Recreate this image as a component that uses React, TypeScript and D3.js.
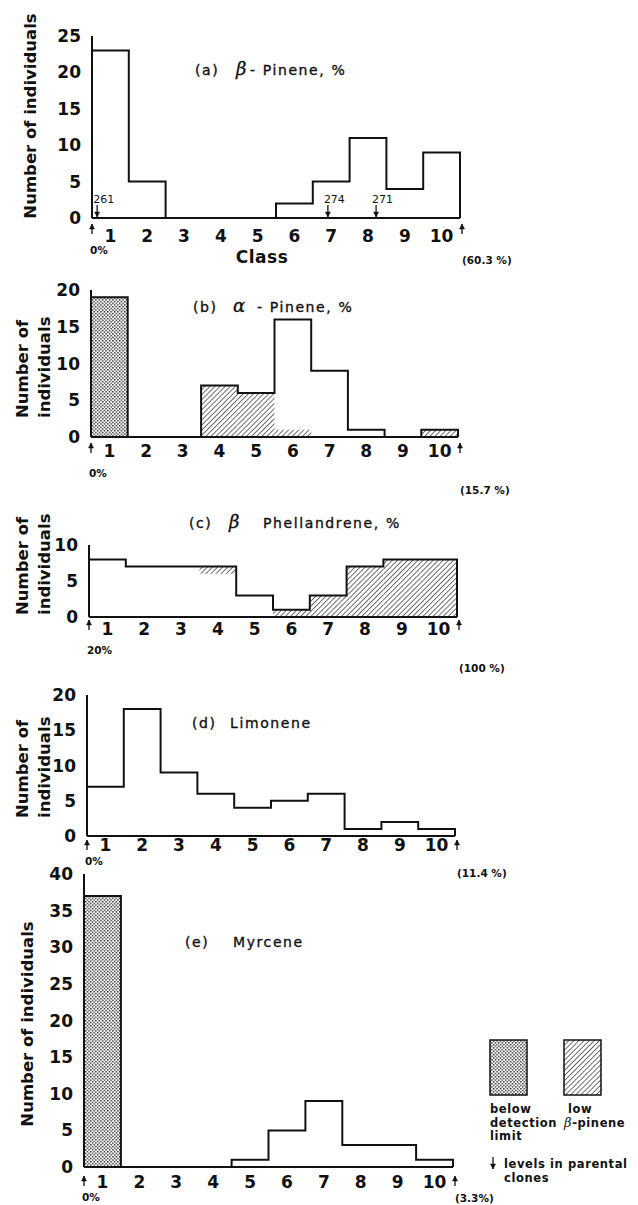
import React from 'react';
import * as d3 from 'd3';

// class labels along every x axis
const classLabels = ['1', '2', '3', '4', '5', '6', '7', '8', '9', '10'];

// counts per class
const betaPinene = [23, 5, 0, 0, 0, 2, 5, 11, 4, 9];
const alphaPinene = [19, 0, 0, 7, 6, 16, 9, 1, 0, 1];
const alphaPineneBelowLimit = [19, 0, 0, 0, 0, 0, 0, 0, 0, 0];
const alphaPineneLowBeta = [0, 0, 0, 7, 6, 1, 0, 0, 0, 1];
const phellandrene = [8, 7, 7, 7, 3, 1, 3, 7, 8, 8];
const phellandreneLowBeta = [0, 0, 0, 1, 0, 1, 3, 7, 8, 8];
const phellandreneLowBetaBase = [0, 0, 0, 6, 0, 0, 0, 0, 0, 0];
const limonene = [7, 18, 9, 6, 4, 5, 6, 1, 2, 1];
const myrcene = [37, 0, 0, 0, 1, 5, 9, 3, 3, 1];
const myrceneBelowLimit = [37, 0, 0, 0, 0, 0, 0, 0, 0, 0];
const zeros = [0, 0, 0, 0, 0, 0, 0, 0, 0, 0];

// parental clone levels in panel (a), as position on the class scale (0..10)
const parentalClones = ['261', '274', '271'];
const parentalClonePositions = [0.14, 6.41, 7.72];

// range ends
const rangeStart = ['0%', '0%', '20%', '0%', '0%'];
const rangeEnd = ['(60.3 %)', '(15.7 %)', '(100 %)', '(11.4 %)', '(3.3%)'];
const yMaxes = [25, 20, 10, 20, 40];

const font = '"DejaVu Sans", Verdana, sans-serif';

// geometry of each panel (pixels): tk = tick label offset, ar = arrow offset
const layout = [
  { x0: 92, x1: 460, y0: 218, yTop: 36, ly: 116, lines: 1, lx: 36, sy: 36, ey: 46, tk: 24, ar: 6 },
  { x0: 91, x1: 458, y0: 437, yTop: 290, ly: 418, lines: 2, lx: 28, sy: 40, ey: 57, tk: 20, ar: 6 },
  { x0: 89, x1: 457, y0: 617, yTop: 545, ly: 615, lines: 2, lx: 28, sy: 37, ey: 55, tk: 18, ar: 3 },
  { x0: 87, x1: 455, y0: 836, yTop: 695, ly: 818, lines: 2, lx: 28, sy: 29, ey: 41, tk: 15, ar: 4 },
  { x0: 84, x1: 453, y0: 1167, yTop: 874, ly: 1024, lines: 1, lx: 33, sy: 34, ey: 35, tk: 21, ar: 9 },
];

const panels = [
  { counts: betaPinene, below: zeros, low: zeros, lowBase: zeros },
  { counts: alphaPinene, below: alphaPineneBelowLimit, low: alphaPineneLowBeta, lowBase: zeros },
  { counts: phellandrene, below: zeros, low: phellandreneLowBeta, lowBase: phellandreneLowBetaBase },
  { counts: limonene, below: zeros, low: zeros, lowBase: zeros },
  { counts: myrcene, below: myrceneBelowLimit, low: zeros, lowBase: zeros },
];

const greek = { fontStyle: 'italic', fontFamily: '"DejaVu Serif", serif', fontSize: 18, fontWeight: 400 } as any;

function Title({ i }: { i: number }) {
  const st = { fontFamily: font, fontSize: 14, letterSpacing: 1.6, fill: '#111', stroke: '#111', strokeWidth: 0.35 } as any;
  if (i === 0) return (
    <text y={75} style={st}>
      <tspan x={195}>(a)</tspan><tspan x={236} style={greek}>β</tspan><tspan x={250}>- Pinene, %</tspan>
    </text>
  );
  if (i === 1) return (
    <text y={312} style={st}>
      <tspan x={193}>(b)</tspan><tspan x={233} style={greek}>α</tspan><tspan x={257}>- Pinene, %</tspan>
    </text>
  );
  if (i === 2) return (
    <text y={528} style={st}>
      <tspan x={189}>(c)</tspan><tspan x={229} style={greek}>β</tspan><tspan x={263}>Phellandrene, %</tspan>
    </text>
  );
  if (i === 3) return (
    <text y={728} style={st}><tspan x={192}>(d)</tspan><tspan x={230}>Limonene</tspan></text>
  );
  return (
    <text y={947} style={st}><tspan x={185}>(e)</tspan><tspan x={233}>Myrcene</tspan></text>
  );
}

function Arrow({ x, y1, y2, up }: { x: number; y1: number; y2: number; up: boolean }) {
  const tip = up ? y1 : y2;
  const d = up ? 1 : -1;
  return (
    <g stroke="#111" strokeWidth={1.3} fill="#111">
      <line x1={x} x2={x} y1={y1} y2={y2} />
      <path d={`M${x - 2.5},${tip + d * 5}L${x},${tip}L${x + 2.5},${tip + d * 5}Z`} strokeWidth={0.5} />
    </g>
  );
}

function Panel({ i }: { i: number }) {
  const g = layout[i];
  const p = panels[i];
  const x = d3.scaleLinear().domain([0, 10]).range([g.x0, g.x1]);
  const y = d3.scaleLinear().domain([0, yMaxes[i]]).range([g.y0, g.yTop]);
  const pts: [number, number][] = [[0, 0]];
  p.counts.forEach((v, k) => { pts.push([k, v]); pts.push([k + 1, v]); });
  pts.push([10, 0]);
  const outline = d3.line<[number, number]>().x(d => x(d[0])).y(d => y(d[1]))(pts) as string;
  const yTicks = d3.range(0, yMaxes[i] + 1, 5);
  const labelSt = { fontFamily: font, fontSize: 17, fontWeight: 700, fill: '#111' } as any;
  const axisLabelSt = { fontFamily: font, fontSize: 16.5, fontWeight: 700, fill: '#111' } as any;
  const smallSt = { fontFamily: font, fontSize: 10.5, fontWeight: 700, fill: '#111' } as any;
  return (
    <g>
      {p.below.map((v, k) => v > 0 && (
        <rect key={'b' + k} x={x(k)} width={x(k + 1) - x(k)} y={y(v)} height={y(0) - y(v)} fill="url(#stipple)" />
      ))}
      {p.low.map((v, k) => v > 0 && (
        <rect key={'l' + k} x={x(k)} width={x(k + 1) - x(k)} y={y(p.lowBase[k] + v)} height={y(p.lowBase[k]) - y(p.lowBase[k] + v)} fill="url(#hatch)" />
      ))}
      <path d={outline} fill="none" stroke="#111" strokeWidth={2} strokeLinejoin="miter" />
      <line x1={g.x0} x2={g.x1} y1={g.y0} y2={g.y0} stroke="#111" strokeWidth={2} />
      <line x1={g.x0} x2={g.x0} y1={g.yTop} y2={g.y0} stroke="#111" strokeWidth={2} />
      {yTicks.map(t => (
        <text key={t} x={g.x0 - 11} y={y(t) + 6} textAnchor="end" style={labelSt}>{t}</text>
      ))}
      {classLabels.map((c, k) => (
        <text key={c} x={x(k + 0.5)} y={g.y0 + g.tk} textAnchor="middle" style={labelSt}>{c}</text>
      ))}
      <Arrow x={g.x0} y1={g.y0 + g.ar} y2={g.y0 + g.ar + 10} up={true} />
      <Arrow x={g.x1 + 2} y1={g.y0 + g.ar} y2={g.y0 + g.ar + 10} up={true} />
      <text x={g.x0 - 2} y={g.y0 + g.sy} style={smallSt}>{rangeStart[i]}</text>
      <text x={g.x1 + 2} y={g.y0 + g.ey} style={smallSt}>{rangeEnd[i]}</text>
      {g.lines === 1 ? (
        <text transform={`translate(${g.lx},${g.ly}) rotate(-90)`} textAnchor="middle" style={axisLabelSt}>Number of individuals</text>
      ) : (
        <g>
          <text transform={`translate(${g.lx},${g.ly}) rotate(-90)`} style={axisLabelSt}>Number of</text>
          <text transform={`translate(${g.lx + 22},${g.ly}) rotate(-90)`} style={axisLabelSt}>individuals</text>
        </g>
      )}
      {i === 0 && (
        <text x={262} y={263} textAnchor="middle" style={{ ...labelSt, letterSpacing: 0.5 }}>Class</text>
      )}
      {i === 0 && parentalClones.map((c, k) => (
        <g key={c}>
          <text x={x(parentalClonePositions[k]) - 4} y={g.y0 - 15} style={{ fontFamily: font, fontSize: 11, fill: '#111' }}>{c}</text>
          <Arrow x={x(parentalClonePositions[k])} y1={g.y0 - 13} y2={g.y0 - 1} up={false} />
        </g>
      ))}
      <Title i={i} />
    </g>
  );
}

export default function App() {
  const small = { fontFamily: font, fontSize: 11.5, fontWeight: 700, fill: '#111', letterSpacing: 0.6 } as any;
  return (
    <svg width={638} height={1205} style={{ position: 'absolute', left: 0, top: 0, background: '#fff' }}>
      <defs>
        <pattern id="stipple" width={3.4} height={3.4} patternUnits="userSpaceOnUse">
          <rect width={3.4} height={3.4} fill="#fff" />
          <rect x={0} y={0} width={1.4} height={1.4} fill="#222" />
          <rect x={1.7} y={1.7} width={1.4} height={1.4} fill="#222" />
        </pattern>
        <pattern id="hatch" width={3.6} height={3.6} patternUnits="userSpaceOnUse" patternTransform="rotate(45)">
          <rect width={3.6} height={3.6} fill="#fff" />
          <line x1={0} y1={0} x2={0} y2={3.6} stroke="#111" strokeWidth={1.2} />
        </pattern>
      </defs>
      {layout.map((_, i) => <Panel key={i} i={i} />)}
      <g>
        <rect x={490} y={1040} width={37} height={55} fill="url(#stipple)" stroke="#111" strokeWidth={1.5} />
        <rect x={564} y={1040} width={37} height={55} fill="url(#hatch)" stroke="#111" strokeWidth={1.5} />
        <text x={490} y={1113} style={small}>below</text>
        <text x={490} y={1127} style={small}>detection</text>
        <text x={490} y={1140} style={small}>limit</text>
        <text x={568} y={1113} style={small}>low</text>
        <text x={564} y={1127} style={small}><tspan style={{ ...greek, fontSize: 13 }}>β</tspan>-pinene</text>
        <Arrow x={493} y1={1157} y2={1169} up={false} />
        <text x={504} y={1168} style={small}>levels in parental</text>
        <text x={504} y={1182} style={small}>clones</text>
      </g>
    </svg>
  );
}
